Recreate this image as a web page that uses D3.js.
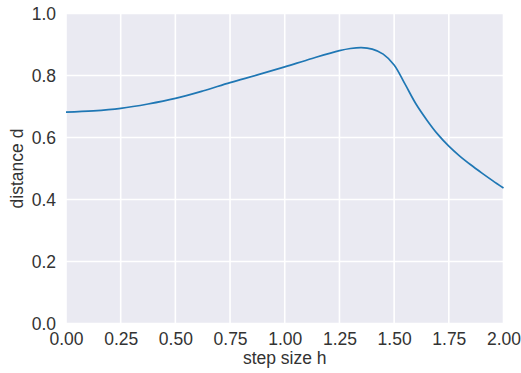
<!DOCTYPE html>
<html>
<head>
<meta charset="utf-8">
<script src="https://cdn.jsdelivr.net/npm/d3@7"></script>
<style>
  body { margin: 0; background: #fff; }
  text { font-family: "Liberation Sans", Arial, sans-serif; }
</style>
</head>
<body>
<div id="chart"></div>
<script>
const stepSizes = [0, 0.125, 0.25, 0.375, 0.5, 0.625, 0.75, 0.875, 1.0, 1.125, 1.25, 1.3, 1.35, 1.4, 1.45,
  1.5, 1.55, 1.6, 1.65, 1.7, 1.75, 1.8, 1.85, 1.9, 1.95, 2.0];
const distances = [0.682, 0.686, 0.694, 0.708, 0.726, 0.750, 0.777, 0.802, 0.828, 0.855, 0.880, 0.887, 0.890, 0.885, 0.869,
  0.834, 0.772, 0.708, 0.656, 0.610, 0.572, 0.540, 0.512, 0.486, 0.461, 0.437];
const xTicks = [0, 0.25, 0.5, 0.75, 1.0, 1.25, 1.5, 1.75, 2.0];
const yTicks = [0, 0.2, 0.4, 0.6, 0.8, 1.0];

const width = 521, height = 373;
const margin = { top: 13.5, right: 17.5, bottom: 49.5, left: 66 };
const fontSize = "17.5px";

const svg = d3.select("#chart").append("svg")
  .attr("width", width)
  .attr("height", height);

const x = d3.scaleLinear().domain([0, 2]).range([margin.left, width - margin.right]);
const y = d3.scaleLinear().domain([0, 1]).range([height - margin.bottom, margin.top]);

// axes background
svg.append("rect")
  .attr("x", x(0)).attr("y", y(1))
  .attr("width", x(2) - x(0)).attr("height", y(0) - y(1))
  .attr("fill", "#EAEAF2");

// grid
svg.append("g").selectAll("line").data(xTicks).enter().append("line")
  .attr("x1", d => x(d)).attr("x2", d => x(d))
  .attr("y1", y(0)).attr("y2", y(1))
  .attr("stroke", "#fff").attr("stroke-width", 1.6);
svg.append("g").selectAll("line").data(yTicks).enter().append("line")
  .attr("x1", x(0)).attr("x2", x(2))
  .attr("y1", d => y(d)).attr("y2", d => y(d))
  .attr("stroke", "#fff").attr("stroke-width", 1.6);

// axes via d3, no domain lines or tick marks
const xAxis = svg.append("g")
  .attr("transform", `translate(0,${y(0)})`)
  .call(d3.axisBottom(x).tickValues(xTicks).tickFormat(d3.format(".2f")).tickSize(0).tickPadding(9));
const yAxis = svg.append("g")
  .attr("transform", `translate(${x(0)},0)`)
  .call(d3.axisLeft(y).tickValues(yTicks).tickFormat(d3.format(".1f")).tickSize(0).tickPadding(10));
[xAxis, yAxis].forEach(g => {
  g.select(".domain").remove();
  g.selectAll("text")
    .attr("fill", "#333")
    .style("font-size", fontSize)
    .style("font-family", "Liberation Sans, Arial, sans-serif");
});

// line
const line = d3.line()
  .x((d, i) => x(stepSizes[i]))
  .y(d => y(d))
  .curve(d3.curveCatmullRom.alpha(0.5));
svg.append("path")
  .datum(distances)
  .attr("fill", "none")
  .attr("stroke", "#1f77b4")
  .attr("stroke-width", 1.7)
  .attr("d", line);

// labels
svg.append("text")
  .attr("x", (x(0) + x(2)) / 2).attr("y", 364)
  .attr("text-anchor", "middle")
  .attr("fill", "#333")
  .style("font-size", fontSize)
  .text("step size h");
svg.append("text")
  .attr("transform", `translate(23,${(y(0) + y(1)) / 2}) rotate(-90)`)
  .attr("text-anchor", "middle")
  .attr("fill", "#333")
  .style("font-size", fontSize)
  .text("distance d");
</script>
</body>
</html>
